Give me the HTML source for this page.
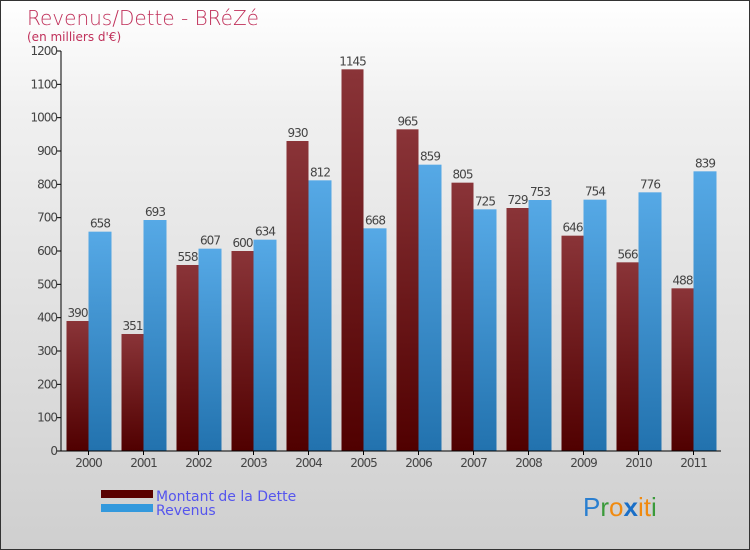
<!DOCTYPE html>
<html><head><meta charset="utf-8"><style>
body{margin:0}
#c{width:750px;height:550px;position:relative;box-sizing:border-box;border:1px solid #333;background:linear-gradient(#fff,#f0f0f0 20%,#cfcfcf);font-family:"DejaVu Sans","Liberation Sans",sans-serif;overflow:hidden}
</style></head><body>
<div id="c">
<svg width="750" height="550" id="svg">
<defs>
<linearGradient id="gd" x1="0" y1="0" x2="0" y2="1"><stop offset="0" stop-color="#8a3438"/><stop offset="1" stop-color="#500000"/></linearGradient>
<linearGradient id="gr" x1="0" y1="0" x2="0" y2="1"><stop offset="0" stop-color="#56a9e6"/><stop offset="1" stop-color="#2272ae"/></linearGradient>
</defs>
<text x="26" y="24" font-size="20" fill="#c0305a" font-weight="300">Revenus/Dette - BRéZé</text>
<text x="26" y="40" font-size="12" fill="#c0305a">(en milliers d'€)</text>
<g id="g"></g>
<rect x="100" y="489" width="52" height="8" fill="#5a0000"/>
<rect x="100" y="503" width="52" height="8" fill="#3399dd"/>
<text x="155" y="500" font-size="14" fill="#5555ee">Montant de la Dette</text>
<text x="155" y="514" font-size="14" fill="#5555ee">Revenus</text>
<text x="582" y="515" font-size="26" font-family="Liberation Sans, sans-serif"><tspan fill="#2a7fd0">P</tspan><tspan fill="#3a9a3a">r</tspan><tspan fill="#f08a10">o</tspan><tspan fill="#1a6fc8" font-weight="bold">x</tspan><tspan fill="#f08a10">i</tspan><tspan fill="#f08a10">t</tspan><tspan fill="#3a9a3a">i</tspan></text>
</svg>
</div>
<script>
const years=["2000","2001","2002","2003","2004","2005","2006","2007","2008","2009","2010","2011"];
const dette=[390,351,558,600,930,1145,965,805,729,646,566,488];
const revenus=[658,693,607,634,812,668,859,725,753,754,776,839];
const yTicks=[0,100,200,300,400,500,600,700,800,900,1000,1100,1200];
const NS="http://www.w3.org/2000/svg";
const g=document.getElementById('g');
const x0=60,pitch=55,yb=450,yt=50,ymax=1200;
const y=v=>yb-(v/ymax)*(yb-yt);
const cx=i=>x0+pitch*(i+0.5);
function mk(t,a){const e=document.createElementNS(NS,t);for(const k in a)e.setAttribute(k,a[k]);g.appendChild(e);return e;}
yTicks.forEach(v=>{
const l=mk('line',{x1:x0-4,x2:x0,y1:y(v),y2:y(v),stroke:'#000'});


const t=mk('text',{x:x0-4,y:y(v)+4,'text-anchor':'end','font-size':12,fill:'#444','letter-spacing':'-1'});
t.textContent=v;


});
years.forEach((yr,i)=>{
const c=cx(i);
const b1=mk('rect',{x:c-22,y:y(dette[i]),width:22,height:yb-y(dette[i]),fill:'url(#gd)'});


const b2=mk('rect',{x:c,y:y(revenus[i]),width:23,height:yb-y(revenus[i]),fill:'url(#gr)'});


const t1=mk('text',{x:c-11,y:y(dette[i])-4,'text-anchor':'middle','font-size':12,fill:'#444','letter-spacing':'-1'});
t1.textContent=dette[i];


const t2=mk('text',{x:c+11.5,y:y(revenus[i])-4,'text-anchor':'middle','font-size':12,fill:'#444','letter-spacing':'-1'});
t2.textContent=revenus[i];


const tk=mk('line',{x1:c,x2:c,y1:yb,y2:yb+4,stroke:'#000'});


const xl=mk('text',{x:c,y:yb+16,'text-anchor':'middle','font-size':12,fill:'#444','letter-spacing':'-1'});
xl.textContent=yr;


});
const ya=mk('line',{x1:x0,x2:x0,y1:yt,y2:yb,stroke:'#000'});


const xa=mk('line',{x1:x0,x2:x0+pitch*12,y1:yb,y2:yb,stroke:'#000'});


</script>
</body></html>
